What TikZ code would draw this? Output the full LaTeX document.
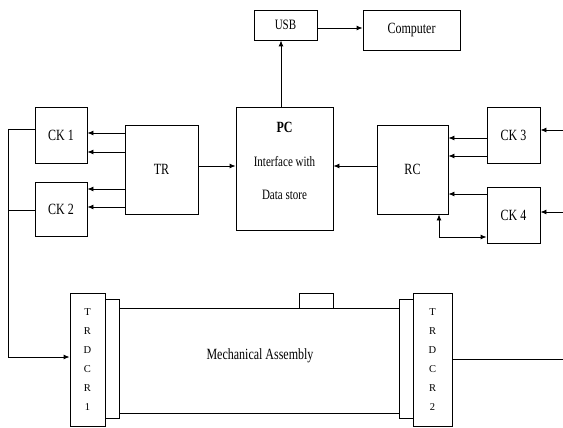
\documentclass[tikz,border=0pt]{standalone}
\usepackage{graphicx}
\usepackage{fontspec}
\setmainfont{Liberation Serif}
\usetikzlibrary{arrows.meta}
\newcommand\tx[1]{\scalebox{1}[1.3]{#1}}
\begin{document}
\begin{tikzpicture}[x=1pt,y=-1pt,
  box/.style={draw,line width=0.9pt,inner sep=0pt,font=\fontsize{12}{14}\selectfont},
  lbl/.style={inner sep=0pt,font=\fontsize{11}{13}\selectfont},
  conn/.style={line width=0.9pt},
  arr/.style={conn,-{Latex[length=6pt,width=5pt]}},
  barr/.style={conn,{Latex[length=6pt,width=5pt]}-{Latex[length=6pt,width=5pt]}}]
\useasboundingbox (0,0) rectangle (563,428);
% boxes
\node[box,minimum width=52pt,minimum height=56pt] (ck1) at (61,135) {\tx{CK 1}};
\node[box,minimum width=52pt,minimum height=54pt] (ck2) at (61,209) {\tx{CK 2}};
\node[box,minimum width=73pt,minimum height=89pt] (tr) at (161.5,169.5) {\tx{TR}};
\node[box,minimum width=97pt,minimum height=123pt] (pc) at (284.5,168.5) {};
\node[lbl,font=\bfseries\fontsize{12}{14}\selectfont] (pct) at (284.5,127) {\tx{PC}};
\node[lbl] (pci) at (284.5,162) {\tx{Interface with}};
\node[lbl] (pcd) at (284.5,195) {\tx{Data store}};
\node[box,minimum width=63pt,minimum height=30pt,font=\fontsize{11}{13}\selectfont] (usb) at (285.5,25) {\tx{USB}};
\node[box,minimum width=97pt,minimum height=40pt] (comp) at (411.5,30) {\tx{Computer}};
\node[box,minimum width=71pt,minimum height=89pt] (rc) at (412.5,169.5) {\tx{RC}};
\node[box,minimum width=53pt,minimum height=56pt] (ck3) at (513.5,135) {\tx{CK 3}};
\node[box,minimum width=53pt,minimum height=56pt] (ck4) at (513.5,215) {\tx{CK 4}};
% mechanical assembly
\node[box,minimum width=14pt,minimum height=119pt] (in1) at (112,358.5) {};
\node[box,minimum width=14pt,minimum height=119pt] (in2) at (406,358.5) {};
\node[box,minimum width=35pt,minimum height=133pt,fill=white,align=center,font=\fontsize{10.5}{19}\selectfont] (td1) at (87.5,359.5) {T\\R\\D\\C\\R\\1};
\node[box,minimum width=39pt,minimum height=133pt,fill=white,align=center,font=\fontsize{10.5}{19}\selectfont] (td2) at (432.5,359.5) {T\\R\\D\\C\\R\\2};
\node[box,minimum width=34pt,minimum height=15pt] (cap) at (316,300.5) {};
\draw[conn] (in1.east |- 0,308) -- (in2.west |- 0,308);
\draw[conn] (in1.east |- 0,413) -- (in2.west |- 0,413);
\node[lbl,font=\fontsize{12}{14}\selectfont] (mech) at (260,356) {\tx{Mechanical Assembly}};
% connectors TR
\draw[arr] (tr.west |- 0,133) -- (ck1.east |- 0,133);
\draw[arr] (tr.west |- 0,152) -- (ck1.east |- 0,152);
\draw[arr] (tr.west |- 0,189) -- (ck2.east |- 0,189);
\draw[arr] (tr.west |- 0,207) -- (ck2.east |- 0,207);
\draw[arr] (tr.east |- 0,166) -- (pc.west |- 0,166);
\draw[arr] (rc.west |- 0,166) -- (pc.east |- 0,166);
\draw[arr] (pc.north -| 281,0) -- (usb.south -| 281,0);
\draw[arr] (usb.east |- 0,28) -- (comp.west |- 0,28);
% RC side
\draw[arr] (ck3.west |- 0,138) -- (rc.east |- 0,138);
\draw[arr] (ck3.west |- 0,156) -- (rc.east |- 0,156);
\draw[arr] (ck4.west |- 0,194) -- (rc.east |- 0,194);
\coordinate (r3) at (563,130);
\coordinate (r4) at (563,212);
\draw[arr] (r3) -- (ck3.east |- r3);
\draw[arr] (r4) -- (ck4.east |- r4);
\draw[barr] (rc.south -| 439,0) |- (ck4.west |- 0,237);
% left bus
\coordinate (bus) at (8,129);
\draw[conn] (ck1.west |- bus) -- (bus);
\draw[conn] (ck2.west |- 0,210) -- (8,210);
\draw[arr] (bus) |- (td1.west |- 0,357);
% right output
\coordinate (rout) at (563,359);
\draw[conn] (td2.east |- rout) -- (rout);
\end{tikzpicture}
\end{document}
